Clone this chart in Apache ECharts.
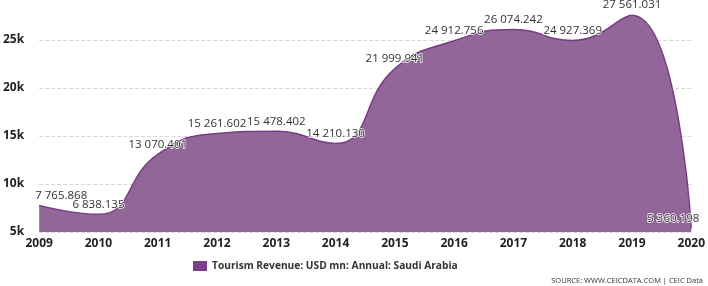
<!DOCTYPE html>
<html>
<head>
<meta charset="utf-8">
<script src="https://cdn.jsdelivr.net/npm/echarts@6/dist/echarts.min.js"></script>
<style>
html, body { margin: 0; padding: 0; background: #fff; }
#ct1 { width: 708px; height: 286px; }
</style>
</head>
<body>
<div id="ct1"></div>
<script>
var years = ['2009', '2010', '2011', '2012', '2013', '2014', '2015', '2016', '2017', '2018', '2019', '2020'];
var revenue = [7765.868, 6838.135, 13070.401, 15261.602, 15478.402, 14210.130, 21999.941, 24912.756, 26074.242, 24927.369, 27561.031, 5360.198];
var seriesName = 'Tourism Revenue: USD mn: Annual: Saudi Arabia';
var sourceText = 'SOURCE: WWW.CEICDATA.COM | CEIC Data';

function fmt(v) {
	var parts = v.toFixed(3).split('.');
	return parts[0].replace(/\B(?=(\d{3})+(?!\d))/g, ' ') + '.' + parts[1];
}

var points = [];
for (var i = 0; i < revenue.length; i++) {
	var o = { value: revenue[i] };
	if (i == 0) {
		o.label = { align: 'left' };
	} else if (i == revenue.length - 1) {
		o.label = { align: 'right' };
	}
	points.push(o);
}

var font = '"Open Sans", sans-serif';

var option1 = {
	animation: false,
	grid: { left: 37, right: 16, top: 11, bottom: 54 },
	legend: {
		bottom: 10,
		left: 188,
		itemWidth: 14,
		itemHeight: 10,
		itemGap: 4,
		icon: 'rect',
		textStyle: { fontFamily: font, fontSize: 10.2, fontWeight: 'bold', color: '#333' },
		data: [seriesName]
	},
	graphic: [{
		type: 'text',
		right: 5,
		bottom: 1,
		style: { text: sourceText, font: '7.5px ' + font, fill: '#333' }
	}],
	xAxis: {
		type: 'category',
		boundaryGap: false,
		data: years,
		axisLine: { show: false },
		axisTick: { show: false },
		axisLabel: { fontFamily: font, fontSize: 12, fontWeight: 'bold', color: '#222', margin: 6 }
	},
	yAxis: {
		type: 'value',
		min: 5000,
		max: 28000,
		interval: 5000,
		axisLabel: {
			fontFamily: font, fontSize: 12, fontWeight: 'bold', color: '#222', margin: 15,
			formatter: function (v) { return v % 5000 == 0 ? (v / 1000) + 'k' : ''; }
		},
		splitLine: { showMaxLine: false, lineStyle: { type: 'dashed', color: '#d8d8d8' } }
	},
	series: [{
		name: seriesName,
		type: 'line',
		smooth: 0.5,
		symbol: 'circle',
		symbolSize: 0.1,
		showSymbol: true,
		data: points,
		itemStyle: { color: '#7d3f8a' },
		lineStyle: { color: '#7a3c88', width: 1.5 },
		areaStyle: { color: '#926699', opacity: 1 },
		label: {
			show: true,
			position: 'top',
			distance: 4,
			fontFamily: font,
			fontSize: 11.5,
			color: '#333',
			textBorderColor: '#fff',
			textBorderWidth: 1.5,
			formatter: function (p) { return fmt(p.value); }
		},
		labelLayout: function (params) {
			if (params.dataIndex == 0) {
				return { dx: -4 };
			}
			if (params.dataIndex == revenue.length - 1) {
				return { dx: 8 };
			}
			return {};
		}
	}]
};

var myChart1 = echarts.init(document.getElementById('ct1'));
myChart1.setOption(option1, true);
</script>
</body>
</html>
